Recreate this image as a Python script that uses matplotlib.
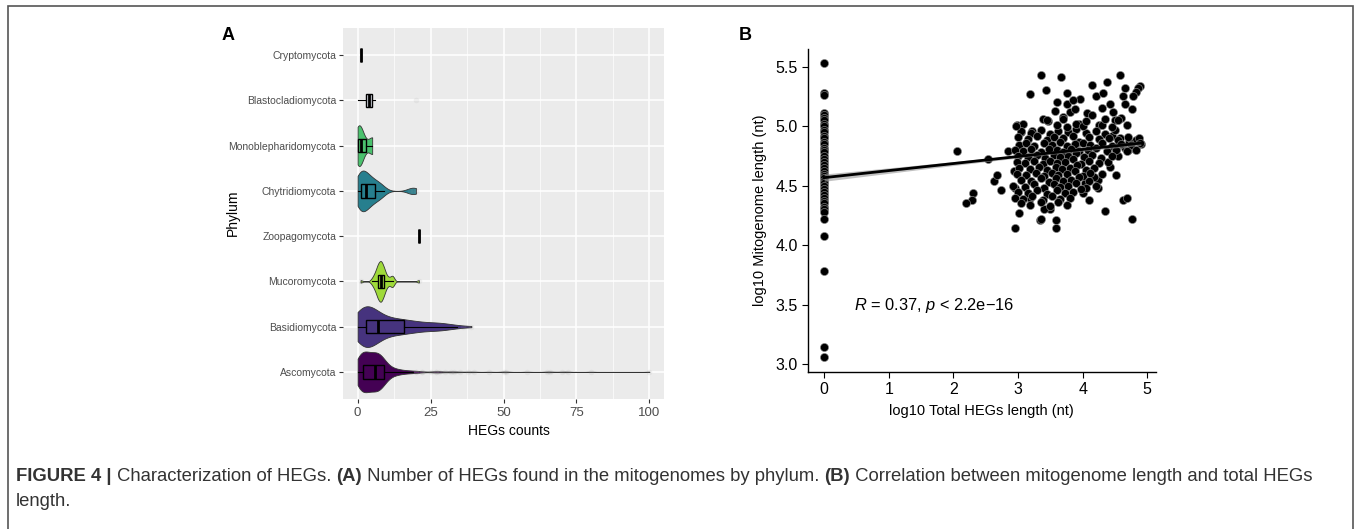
import numpy as np
import matplotlib.pyplot as plt
from matplotlib.patches import Rectangle

plt.rcParams["font.family"] = ["Liberation Sans", "DejaVu Sans"]
plt.rcParams["mathtext.fontset"] = "custom"
plt.rcParams["mathtext.rm"] = "Liberation Sans"
plt.rcParams["mathtext.it"] = "Liberation Sans:italic"

W, H = 1357, 529

# ---- panel A: HEG counts per mitogenome, by phylum (bottom -> top)
phyla = ["Ascomycota", "Basidiomycota", "Mucoromycota", "Zoopagomycota",
         "Chytridiomycota", "Monoblepharidomycota", "Blastocladiomycota", "Cryptomycota"]
phylum_colors = ["#440154", "#46337E", "#9FDA3A", "#FDE725",
                 "#277F8E", "#4AC16D", "#365C8D", "#1FA187"]
violin_phyla = ["Ascomycota", "Basidiomycota", "Mucoromycota",
                "Chytridiomycota", "Monoblepharidomycota"]

# counts stored as value -> number of mitogenomes with that value
asco_vals = [0, 1, 2, 3, 4, 5, 6, 7, 8, 9, 10, 11, 12, 13, 14, 15, 16, 17, 18, 19,
             20, 22, 25, 27, 28, 30, 32, 33, 35, 38, 40, 45, 50, 51, 58, 65, 66, 70, 72, 80, 100]
asco_freq = [30, 28, 32, 30, 28, 26, 30, 30, 26, 20, 12, 8, 6, 5, 4, 3, 3, 2, 2, 2,
             2, 2, 1, 2, 1, 1, 1, 1, 1, 1, 1, 1, 1, 1, 1, 1, 1, 1, 1, 1, 1]
basid_vals = [0, 1, 2, 3, 4, 5, 6, 7, 8, 9, 10, 11, 12, 13, 14, 15, 16, 17, 18, 19,
              20, 21, 22, 23, 24, 25, 26, 27, 28, 29, 30, 31, 32, 33, 34, 36, 39]
basid_freq = [10, 14, 16, 10, 10, 10, 10, 6, 5, 5, 4, 4, 4, 4, 4, 4, 3, 3, 3, 3,
              3, 2, 2, 2, 2, 2, 2, 2, 2, 2, 2, 1, 1, 1, 1, 1, 1]
muco_vals = [1, 5, 6, 7, 8, 9, 10, 11, 12, 21]
muco_freq = [1, 2, 5, 10, 12, 8, 3, 2, 4, 1]
chytrid_vals = [0, 1, 2, 3, 4, 5, 6, 7, 8, 9, 18, 19, 20]
chytrid_freq = [5, 5, 5, 4, 3, 3, 2, 2, 2, 1, 1, 1, 1]
monoble_vals = [0, 1, 2, 5]
monoble_freq = [3, 2, 1, 2]
blasto_vals = [0, 2, 3, 4, 5, 6, 20]
blasto_freq = [1, 1, 2, 2, 2, 1, 1]
crypto_vals = [1]
crypto_freq = [3]
zoopago_vals = [21]
zoopago_freq = [1]

heg_counts = {
    "Ascomycota": np.repeat(asco_vals, asco_freq),
    "Basidiomycota": np.repeat(basid_vals, basid_freq),
    "Mucoromycota": np.repeat(muco_vals, muco_freq),
    "Zoopagomycota": np.repeat(zoopago_vals, zoopago_freq),
    "Chytridiomycota": np.repeat(chytrid_vals, chytrid_freq),
    "Monoblepharidomycota": np.repeat(monoble_vals, monoble_freq),
    "Blastocladiomycota": np.repeat(blasto_vals, blasto_freq),
    "Cryptomycota": np.repeat(crypto_vals, crypto_freq),
}
x_ticks_a = [0, 25, 50, 75, 100]

# ---- panel B: log10 total HEG length vs log10 mitogenome length
zero_heg_y = [5.53, 5.28, 5.26, 5.11, 5.09, 5.07, 5.05, 5.02, 5.0, 4.97, 4.95, 4.92,
              4.9, 4.87, 4.85, 4.82, 4.8, 4.78, 4.75, 4.72, 4.7, 4.67, 4.65, 4.62,
              4.6, 4.58, 4.56, 4.54, 4.52, 4.5, 4.47, 4.45, 4.42, 4.4, 4.37, 4.35,
              4.32, 4.3, 4.28, 4.22, 4.08, 3.78, 3.14, 3.06]
cluster_points = [
    (2.05, 4.79), (2.54, 4.72), (2.31, 4.44), (2.29, 4.38), (2.19, 4.35),
    (3.35, 5.43), (3.66, 5.41), (3.18, 5.27), (3.44, 5.30), (4.57, 5.43), (4.15, 5.35),
    (4.38, 5.37), (4.66, 5.32), (4.88, 5.34), (4.85, 5.32), (4.83, 5.29), (4.78, 5.25),
    (3.96, 5.23), (3.75, 5.28), (2.96, 4.14), (3.59, 4.14), (3.59, 4.21), (3.34, 4.21),
    (3.36, 4.22), (3.01, 4.27), (4.35, 4.29), (4.77, 4.22), (4.62, 4.38), (4.68, 4.40),
    (4.10, 4.38), (4.0, 4.44), (3.49, 4.30), (3.40, 4.30), (3.19, 4.40), (2.63, 4.54),
    (2.68, 4.59), (2.74, 4.46), (2.84, 4.79), (2.99, 5.01), (3.08, 5.02), (3.21, 4.96),
    (3.39, 5.06), (3.47, 5.04), (3.57, 5.13), (3.60, 5.20), (3.75, 5.19), (3.80, 5.12),
    (3.88, 5.14), (4.06, 5.11), (4.14, 5.09), (4.25, 5.01), (4.21, 5.25), (4.32, 5.28),
    (4.42, 5.19), (4.47, 5.12), (4.62, 5.25), (4.65, 5.19), (4.76, 5.14), (4.60, 5.07),
    (4.68, 5.01), (4.83, 4.88), (4.81, 4.81), (4.65, 4.82), (4.51, 4.81), (4.52, 4.59),
    (4.42, 4.66), (4.39, 4.70), (4.24, 4.55), (4.24, 4.48), (4.18, 4.57), (4.03, 4.52),
    (2.95, 4.48), (2.93, 4.62), (3.05, 4.95), (3.7, 5.08), (3.95, 5.02), (4.3, 5.15),
    (4.5, 5.05), (3.85, 5.22), (4.9, 4.85), (4.87, 4.9), (4.72, 4.87), (4.58, 4.9),
    (4.45, 4.92), (4.55, 4.75), (4.7, 4.8),
    (3.05, 4.96), (3.2, 4.94), (3.35, 4.97), (3.5, 4.93), (3.62, 4.96), (3.78, 4.95),
    (3.9, 4.98), (4.05, 4.94), (4.2, 4.96), (4.35, 4.93), (4.5, 4.97),
    (3.0, 4.91), (3.15, 4.89), (3.3, 4.92), (3.45, 4.88), (3.55, 4.91), (3.7, 4.9),
    (3.85, 4.92), (3.95, 4.87), (4.1, 4.91), (4.25, 4.89), (4.4, 4.9), (4.55, 4.88), (4.7, 4.91),
    (3.02, 4.84), (3.12, 4.86), (3.25, 4.83), (3.4, 4.86), (3.52, 4.84), (3.65, 4.87),
    (3.75, 4.83), (3.88, 4.85), (4.0, 4.86), (4.12, 4.84), (4.3, 4.86), (4.45, 4.83),
    (4.6, 4.85), (4.75, 4.84), (4.88, 4.86),
    (2.95, 4.8), (3.08, 4.79), (3.2, 4.81), (3.35, 4.78), (3.48, 4.81), (3.6, 4.8),
    (3.7, 4.78), (3.82, 4.81), (3.95, 4.79), (4.08, 4.8), (4.2, 4.82), (4.38, 4.79),
    (4.52, 4.8), (4.68, 4.79), (4.82, 4.8),
    (3.0, 4.75), (3.15, 4.74), (3.3, 4.76), (3.42, 4.73), (3.55, 4.76), (3.65, 4.74),
    (3.78, 4.75), (3.9, 4.77), (4.02, 4.74), (4.15, 4.76), (4.28, 4.73), (4.45, 4.75),
    (2.98, 4.7), (3.1, 4.69), (3.25, 4.71), (3.38, 4.68), (3.5, 4.71), (3.6, 4.69),
    (3.72, 4.7), (3.85, 4.72), (3.98, 4.68), (4.1, 4.71), (4.25, 4.69),
    (3.02, 4.65), (3.18, 4.64), (3.32, 4.66), (3.45, 4.63), (3.58, 4.66), (3.68, 4.64),
    (3.8, 4.65), (3.92, 4.67), (4.05, 4.63), (4.18, 4.65),
    (2.98, 4.6), (3.12, 4.59), (3.28, 4.61), (3.4, 4.58), (3.52, 4.61), (3.62, 4.59),
    (3.75, 4.6), (3.88, 4.62), (4.0, 4.58), (4.12, 4.61), (4.3, 4.6),
    (3.05, 4.55), (3.2, 4.54), (3.35, 4.56), (3.48, 4.53), (3.58, 4.56), (3.7, 4.54),
    (3.82, 4.55), (3.95, 4.57), (4.1, 4.54),
    (2.92, 4.5), (3.1, 4.49), (3.25, 4.51), (3.4, 4.48), (3.55, 4.51), (3.65, 4.49),
    (3.78, 4.5), (3.9, 4.52), (4.05, 4.48), (4.2, 4.5),
    (3.0, 4.45), (3.15, 4.44), (3.3, 4.46), (3.45, 4.43), (3.6, 4.46), (3.72, 4.44),
    (3.85, 4.45), (3.98, 4.47),
    (2.95, 4.4), (3.08, 4.39), (3.22, 4.41), (3.38, 4.38), (3.52, 4.41), (3.65, 4.39), (3.8, 4.4),
    (3.05, 4.35), (3.18, 4.34), (3.35, 4.36), (3.5, 4.33), (3.62, 4.36), (3.75, 4.34),
    (2.97, 5.0), (3.6, 5.01), (3.75, 4.99), (3.9, 5.02), (4.0, 5.0), (4.3, 5.01), (4.45, 4.99),
    (3.45, 5.05), (3.7, 5.06), (4.05, 5.04), (4.35, 5.06), (4.55, 5.05),
]
fit_intercept = 4.567
fit_slope = 0.0593
fit_resid_sd = 0.11
corr_label = "$R$ = 0.37, $p$ < 2.2e\u221216"

caption_parts = [
    ("FIGURE 4 | ", "bold"),
    ("Characterization of HEGs. ", "normal"),
    ("(A)", "bold"),
    (" Number of HEGs found in the mitogenomes by phylum. ", "normal"),
    ("(B)", "bold"),
    (" Correlation between mitogenome length and total HEGs", "normal"),
]
caption_line2 = "length."


def px(x, y):
    return x / W, 1 - y / H


def nrd0(values):
    sd = np.std(values, ddof=1)
    q75, q25 = np.percentile(values, [75, 25])
    lo = min(sd, (q75 - q25) / 1.34) or sd
    return 0.9 * lo * len(values) ** -0.2


fig = plt.figure(figsize=(W / 100, H / 100), dpi=100)

# ---------------- panel A
ax = fig.add_axes([343 / W, 1 - 399 / H, (664 - 343) / W, (399 - 28) / H])
ax.set_facecolor("#EBEBEB")
ax.set_axisbelow(True)
positions = {name: i + 1 for i, name in enumerate(phyla)}

vdata = [heg_counts[p] for p in violin_phyla]
vpos = [positions[p] for p in violin_phyla]
parts = ax.violinplot(
    vdata, positions=vpos, orientation="horizontal", widths=0.9, points=300,
    showextrema=False,
    bw_method=lambda kde: nrd0(kde.dataset[0]) / np.std(kde.dataset[0], ddof=1),
)
for body, name in zip(parts["bodies"], violin_phyla):
    body.set_facecolor(phylum_colors[phyla.index(name)])
    body.set_edgecolor("#333333")
    body.set_linewidth(0.6)
    body.set_alpha(1)

bp = ax.boxplot(
    [heg_counts[p] for p in phyla], positions=list(positions.values()),
    orientation="horizontal", widths=0.3, patch_artist=True, showcaps=False,
    boxprops=dict(facecolor="none", edgecolor="black", linewidth=1.0),
    whiskerprops=dict(color="black", linewidth=0.8),
    medianprops=dict(color="black", linewidth=2.0),
    flierprops=dict(marker="o", markersize=4, markerfacecolor="#9a9a9a",
                    markeredgecolor="none", alpha=0.12),
)
bp["boxes"][phyla.index("Blastocladiomycota")].set_facecolor("#D5D9E3")

ax.set_xlim(-5, 105)
ax.set_ylim(0.4, 8.6)
ax.set_xticks(x_ticks_a)
ax.set_xticks([12.5, 37.5, 62.5, 87.5], minor=True)
ax.set_yticks(list(positions.values()))
ax.set_yticklabels(phyla)
ax.grid(True, which="major", color="white", linewidth=1.1)
ax.grid(True, which="minor", axis="x", color="white", linewidth=0.5)
ax.tick_params(axis="x", which="minor", length=0)
ax.tick_params(axis="both", which="major", color="#333333", length=3, width=0.8,
               labelcolor="#4D4D4D")
ax.tick_params(axis="x", labelsize=9.5, pad=3)
ax.tick_params(axis="y", labelsize=7.5, pad=2)
for s in ax.spines.values():
    s.set_visible(False)
fig.text(*px(509, 431), "HEGs counts", ha="center", va="center", fontsize=10)
fig.text(*px(233, 213), "Phylum", ha="center", va="center", rotation=90, fontsize=10)
fig.text(*px(228, 36), "A", ha="center", va="center", fontsize=13, fontweight="bold")

# ---------------- panel B
bx = fig.add_axes([808 / W, 1 - 372 / H, (1155.7 - 808) / W, (372 - 49.3) / H])
cx, cy = np.array(cluster_points).T
all_x = np.concatenate([np.zeros(len(zero_heg_y)), cx])
all_y = np.concatenate([zero_heg_y, cy])

xfit = np.linspace(0, all_x.max(), 100)
yfit = fit_intercept + fit_slope * xfit
sxx = np.sum((all_x - all_x.mean()) ** 2)
se = fit_resid_sd * np.sqrt(1 / len(all_x) + (xfit - all_x.mean()) ** 2 / sxx)
bx.fill_between(xfit, yfit - 1.96 * se, yfit + 1.96 * se, color="#999999", alpha=0.6,
                linewidth=0, zorder=3)
bx.scatter(all_x, all_y, s=34, c="black", edgecolors="#8a8a8a", linewidths=0.45, zorder=2)
bx.plot(xfit, yfit, color="black", linewidth=2.0, zorder=4)
bx.text(0.46, 3.49, corr_label, fontsize=11.8, va="center", ha="left")

bx.set_xlim(-0.25, 5.13)
bx.set_ylim(2.933, 5.646)
bx.set_xticks([0, 1, 2, 3, 4, 5])
bx.set_yticks([3.0, 3.5, 4.0, 4.5, 5.0, 5.5])
bx.set_yticklabels(["3.0", "3.5", "4.0", "4.5", "5.0", "5.5"])
bx.tick_params(labelsize=11.5, length=4, width=0.8, color="black", labelcolor="black")
for side in ("top", "right"):
    bx.spines[side].set_visible(False)
for side in ("left", "bottom"):
    bx.spines[side].set_linewidth(1.0)
bx.set_xlabel("log10 Total HEGs length (nt)", fontsize=10.5, labelpad=5)
bx.set_ylabel("log10 Mitogenome length (nt)", fontsize=10.5, labelpad=6)
fig.text(*px(745, 36), "B", ha="center", va="center", fontsize=13, fontweight="bold")

# ---------------- frame and caption
fig.add_artist(Rectangle(px(8, 560), (1353 - 8) / W, (560 - 6) / H, fill=False,
                         edgecolor="#555555", linewidth=1.2, clip_on=False))
prev = None
for txt, weight in caption_parts:
    if prev is None:
        prev = fig.text(*px(16, 485), txt, fontsize=13.3, fontweight=weight,
                        color="#333333", va="bottom", ha="left")
    else:
        prev = ax.annotate(txt, xy=(1, 0), xycoords=prev, xytext=(0, 0),
                           textcoords="offset points", fontsize=13.3, fontweight=weight,
                           color="#333333", va="bottom", annotation_clip=False)
fig.text(*px(16, 510), caption_line2, fontsize=13.3, color="#333333", va="bottom", ha="left")

fig.savefig("out.png", dpi=100)
